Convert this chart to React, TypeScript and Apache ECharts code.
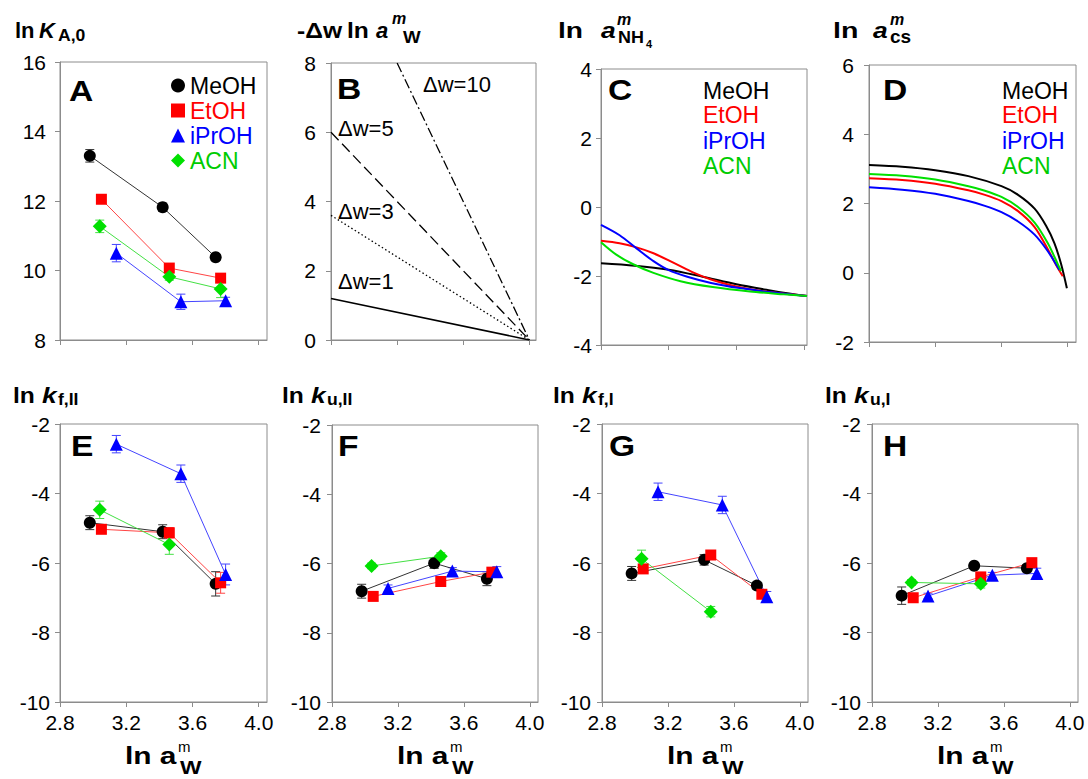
import React, { useEffect, useRef } from 'react';
import * as echarts from 'echarts';

const FONT = '"Liberation Sans", Arial, Helvetica, sans-serif';
const AX = '#8c8c8c';

// ---------- categories / styling per solvent ----------
const solvents = ['MeOH', 'EtOH', 'iPrOH', 'ACN'];
const markerColors = ['#000000', '#ff0000', '#0000ff', '#00e000'];
const lineColors = ['#333333', '#ff4444', '#4444ff', '#44e044'];
const textColors = ['#000000', '#ff0000', '#0000ff', '#00cc00'];
const markerSymbols = ['circle', 'rect', 'triangle', 'diamond'];
const markerSizes = [12, 11, 13, 14];

const xTicks = [2.8, 3.2, 3.6, 4.0];

// ---------- ln a^m_W of each data set ----------
const x_MeOH = [2.98, 3.42, 3.74];
const x_EtOH = [3.05, 3.46, 3.77];
const x_iPrOH = [3.14, 3.53, 3.8];
const x_ACN = [3.04, 3.46, 3.77];

// ---------- A: ln K_A,0 ----------
const A_MeOH = [13.3, 11.82, 10.38];
const A_EtOH = [12.05, 10.07, 9.78];
const A_iPrOH = [10.5, 9.1, 9.13];
const A_ACN = [11.27, 9.82, 9.47];
const A_err_MeOH = [0.18, 0.12, 0.08];
const A_err_EtOH = [0.08, 0.1, 0.1];
const A_err_iPrOH = [0.25, 0.22, 0.1];
const A_err_ACN = [0.18, 0.1, 0.25];

// ---------- B: -Δw ln a^m_W ----------
const B_labels = ['Δw=1', 'Δw=3', 'Δw=5', 'Δw=10'];
const B_dw1 = [[2.8, 1.2], [4.0, 0]];
const B_dw3 = [[2.8, 3.6], [4.0, 0]];
const B_dw5 = [[2.8, 6.0], [4.0, 0]];
const B_dw10 = [[3.2, 8.0], [4.0, 0]];

// ---------- C: ln a^m_NH4 ----------
const C_MeOH = [[2.8, -1.63], [3.0, -1.7], [3.2, -1.82], [3.4, -2.02], [3.6, -2.24], [3.8, -2.42], [3.9, -2.5], [4.017, -2.58]];
const C_EtOH = [[2.8, -0.98], [2.91, -1.05], [3.01, -1.17], [3.11, -1.34], [3.23, -1.62], [3.35, -1.91], [3.45, -2.1], [3.58, -2.28], [3.74, -2.43], [3.9, -2.52], [4.017, -2.58]];
const C_iPrOH = [[2.8, -0.52], [2.91, -0.82], [3.01, -1.2], [3.11, -1.57], [3.2, -1.83], [3.31, -2.02], [3.45, -2.2], [3.62, -2.35], [3.82, -2.48], [4.017, -2.58]];
const C_ACN = [[2.8, -1.02], [2.89, -1.38], [2.99, -1.66], [3.11, -1.91], [3.27, -2.15], [3.46, -2.32], [3.68, -2.45], [3.88, -2.53], [4.017, -2.58]];

// ---------- D: ln a^m_cs ----------
const D_MeOH = [[2.8, 3.11], [3.0, 3.06], [3.2, 2.96], [3.4, 2.79], [3.6, 2.5], [3.7, 2.25], [3.8, 1.85], [3.87, 1.35], [3.92, 0.85], [3.96, 0.25], [3.995, -0.45]];
const D_EtOH = [[2.8, 2.73], [3.0, 2.68], [3.2, 2.57], [3.4, 2.38], [3.5, 2.25], [3.6, 2.07], [3.7, 1.78], [3.8, 1.32], [3.88, 0.68], [3.93, 0.22], [3.97, -0.1]];
const D_iPrOH = [[2.8, 2.47], [3.0, 2.4], [3.2, 2.28], [3.4, 2.07], [3.5, 1.93], [3.6, 1.75], [3.7, 1.48], [3.8, 1.1], [3.88, 0.62], [3.95, 0.08]];
const D_ACN = [[2.8, 2.85], [3.0, 2.8], [3.2, 2.69], [3.4, 2.5], [3.5, 2.37], [3.6, 2.19], [3.7, 1.9], [3.8, 1.45], [3.88, 0.85], [3.94, 0.25], [3.96, 0.05]];

// ---------- E: ln k_f,II ----------
const E_MeOH = [-4.84, -5.1, -6.6];
const E_EtOH = [-5.03, -5.13, -6.57];
const E_iPrOH = [-2.58, -3.43, -6.33];
const E_ACN = [-4.47, -5.47];
const E_err_MeOH = [0.2, 0.2, 0.35];
const E_err_EtOH = [0.08, 0.15, 0.3];
const E_err_iPrOH = [0.25, 0.25, 0.3];
const E_err_ACN = [0.25, 0.28];

// ---------- F: ln k_u,II ----------
const F_MeOH = [-6.8, -5.99, -6.44];
const F_EtOH = [-6.95, -6.52, -6.25];
const F_iPrOH = [-6.72, -6.22, -6.24];
const F_ACN = [-6.07, -5.79];
const F_err_MeOH = [0.2, 0.15, 0.2];
const F_err_EtOH = [0.08, 0.08, 0.1];
const F_err_iPrOH = [0.1, 0.1, 0.15];
const F_err_ACN = [0.08, 0.1];

// ---------- G: ln k_f,I ----------
const G_MeOH = [-6.3, -5.91, -6.65];
const G_EtOH = [-6.17, -5.77, -6.9];
const G_iPrOH = [-3.95, -4.33, -6.97];
const G_ACN = [-5.88, -7.4];
const G_err_MeOH = [0.2, 0.15, 0.1];
const G_err_EtOH = [0.08, 0.08, 0.1];
const G_err_iPrOH = [0.25, 0.25, 0.15];
const G_err_ACN = [0.25, 0.15];

// ---------- H: ln k_u,I ----------
const H_MeOH = [-6.94, -6.08, -6.15];
const H_EtOH = [-7.0, -6.4, -5.99];
const H_iPrOH = [-6.95, -6.35, -6.3];
const H_ACN = [-6.56, -6.6];
const H_err_MeOH = [0.25, 0.08, 0.1];
const H_err_EtOH = [0.08, 0.08, 0.08];
const H_err_iPrOH = [0.08, 0.08, 0.15];
const H_err_ACN = [0.08, 0.12];

const xBySolvent = [x_MeOH, x_EtOH, x_iPrOH, x_ACN];

const panels = [
  { left: 60, top: 62, width: 207, height: 278, xMax: 4.05, yMin: 8, yMax: 16, lm: 14 },
  { left: 331, top: 63, width: 205, height: 277, xMax: 4.04, yMin: 0, yMax: 8, lm: 15 },
  { left: 601, top: 69, width: 206, height: 276, xMax: 4.017, yMin: -4, yMax: 4, lm: 9 },
  { left: 869, top: 65, width: 207, height: 277, xMax: 4.05, yMin: -2, yMax: 6, lm: 15 },
  { left: 60, top: 424, width: 207, height: 278, xMax: 4.05, yMin: -10, yMax: -2, lm: 10 },
  { left: 332, top: 425, width: 206, height: 277, xMax: 4.05, yMin: -10, yMax: -2, lm: 11 },
  { left: 602, top: 424, width: 206, height: 278, xMax: 4.05, yMin: -10, yMax: -2, lm: 11 },
  { left: 872, top: 424, width: 206, height: 278, xMax: 4.05, yMin: -10, yMax: -2, lm: 11 },
];

const pts = (xs: number[], ys: number[]) => ys.map((y, i) => [xs[i], y]);

const errorRender = (color: string) => (params: any, api: any) => {
  const x = api.value(0);
  const p1 = api.coord([x, api.value(1)]);
  const p2 = api.coord([x, api.value(2)]);
  const hw = 4.5;
  const st = { stroke: color, lineWidth: 1 };
  return {
    type: 'group',
    children: [
      { type: 'line', shape: { x1: p1[0], y1: p1[1], x2: p2[0], y2: p2[1] }, style: st },
      { type: 'line', shape: { x1: p1[0] - hw, y1: p1[1], x2: p1[0] + hw, y2: p1[1] }, style: st },
      { type: 'line', shape: { x1: p2[0] - hw, y1: p2[1], x2: p2[0] + hw, y2: p2[1] }, style: st },
    ],
  };
};

function markerPanel(idx: number, vals: number[][], errs: number[][]) {
  const out: any[] = [];
  vals.forEach((ys, s) => {
    const xs = xBySolvent[s];
    out.push({
      type: 'custom',
      xAxisIndex: idx,
      yAxisIndex: idx,
      silent: true,
      z: 2,
      renderItem: errorRender(lineColors[s]),
      encode: { x: 0, y: [1, 2] },
      data: ys.map((y, i) => [xs[i], y - errs[s][i], y + errs[s][i]]),
    });
  });
  vals.forEach((ys, s) => {
    out.push({
      type: 'line',
      name: solvents[s],
      xAxisIndex: idx,
      yAxisIndex: idx,
      z: 3,
      data: pts(xBySolvent[s], ys),
      symbol: markerSymbols[s],
      symbolSize: markerSizes[s],
      showSymbol: true,
      itemStyle: { color: markerColors[s] },
      lineStyle: { color: lineColors[s], width: 1 },
    });
  });
  return out;
}

function curvePanel(idx: number, curves: number[][][]) {
  return curves.map((d, s) => ({
    type: 'line',
    name: solvents[s],
    xAxisIndex: idx,
    yAxisIndex: idx,
    data: d,
    showSymbol: false,
    symbol: 'none',
    smooth: 0.3,
    itemStyle: { color: markerColors[s] },
    lineStyle: { color: markerColors[s], width: 2 },
  }));
}

const txt = (text: string, x: number, y: number, size: number, o: any = {}) => ({
  type: 'text',
  x,
  y,
  scaleX: o.sx ?? 1,
  silent: true,
  z: 10,
  style: {
    text,
    fill: o.color ?? '#000',
    fontSize: size,
    fontWeight: o.bold ? 'bold' : 'normal',
    fontStyle: o.italic ? 'italic' : 'normal',
    fontFamily: FONT,
    textVerticalAlign: 'middle',
    verticalAlign: 'middle',
  },
});

function buildOption() {
  const grid = panels.map((p) => ({
    left: p.left,
    top: p.top,
    width: p.width,
    height: p.height,
    show: true,
    borderColor: AX,
    borderWidth: 1,
    backgroundColor: 'transparent',
  }));
  const xAxis = panels.map((p, i) => ({
    gridIndex: i,
    type: 'value',
    min: 2.8,
    max: p.xMax,
    interval: 0.4,
    axisLine: { show: true, onZero: false, lineStyle: { color: AX, width: 1 } },
    axisTick: { show: true, inside: false, length: 5, lineStyle: { color: AX }, customValues: xTicks },
    axisLabel: {
      show: i >= 4,
      customValues: xTicks,
      formatter: (v: number) => v.toFixed(1),
      color: '#000',
      fontSize: 21,
      fontFamily: FONT,
      margin: 10,
    },
    splitLine: { show: false },
  }));
  const yAxis = panels.map((p, i) => ({
    gridIndex: i,
    type: 'value',
    min: p.yMin,
    max: p.yMax,
    interval: 2,
    axisLine: { show: true, onZero: false, lineStyle: { color: AX, width: 1 } },
    axisTick: { show: true, inside: false, length: 5, lineStyle: { color: AX } },
    axisLabel: { color: '#000', fontSize: 21, fontFamily: FONT, margin: p.lm },
    splitLine: { show: false },
  }));

  const series: any[] = [];
  series.push(
    ...markerPanel(0, [A_MeOH, A_EtOH, A_iPrOH, A_ACN], [A_err_MeOH, A_err_EtOH, A_err_iPrOH, A_err_ACN])
  );
  const bData = [B_dw1, B_dw3, B_dw5, B_dw10];
  const bTypes: any[] = ['solid', [1.5, 2.5], [11, 5], [10, 3, 2, 3]];
  bData.forEach((d, k) => {
    series.push({
      type: 'line',
      name: B_labels[k],
      xAxisIndex: 1,
      yAxisIndex: 1,
      data: d,
      symbol: 'none',
      showSymbol: false,
      itemStyle: { color: '#000' },
      lineStyle: { color: '#000', width: k === 0 ? 1.6 : 1.3, type: bTypes[k] },
    });
  });
  series.push(...curvePanel(2, [C_MeOH, C_EtOH, C_iPrOH, C_ACN]));
  series.push(...curvePanel(3, [D_MeOH, D_EtOH, D_iPrOH, D_ACN]));
  series.push(
    ...markerPanel(4, [E_MeOH, E_EtOH, E_iPrOH, E_ACN], [E_err_MeOH, E_err_EtOH, E_err_iPrOH, E_err_ACN])
  );
  series.push(
    ...markerPanel(5, [F_MeOH, F_EtOH, F_iPrOH, F_ACN], [F_err_MeOH, F_err_EtOH, F_err_iPrOH, F_err_ACN])
  );
  series.push(
    ...markerPanel(6, [G_MeOH, G_EtOH, G_iPrOH, G_ACN], [G_err_MeOH, G_err_EtOH, G_err_iPrOH, G_err_ACN])
  );
  series.push(
    ...markerPanel(7, [H_MeOH, H_EtOH, H_iPrOH, H_ACN], [H_err_MeOH, H_err_EtOH, H_err_iPrOH, H_err_ACN])
  );

  const els: any[] = [];
  // panel letters
  const letters: [string, number, number][] = [
    ['A', 69, 91], ['B', 337, 89], ['C', 608, 90], ['D', 883, 90],
    ['E', 71, 446], ['F', 338, 446], ['G', 609, 446], ['H', 883, 446],
  ];
  letters.forEach(([t, x, y]) => els.push(txt(t, x, y, 30, { bold: true, sx: 1.12 })));

  // top row titles
  els.push(txt('ln', 15, 30, 22, { bold: true }));
  els.push(txt('K', 39, 30, 22, { bold: true, italic: true }));
  els.push(txt('A,0', 58, 36, 16, { bold: true, sx: 1.1 }));

  els.push(txt('-Δw', 297, 30, 22, { bold: true, sx: 1.12 }));
  els.push(txt('ln', 347, 30, 22, { bold: true, sx: 1.12 }));
  els.push(txt('a', 376, 30, 22, { bold: true, italic: true }));
  els.push(txt('m', 392, 18, 16, { bold: true, italic: true }));
  els.push(txt('W', 403, 37, 17, { bold: true, sx: 1.1 }));

  els.push(txt('ln', 558, 30, 22, { bold: true, sx: 1.28 }));
  els.push(txt('a', 601, 30, 22, { bold: true, italic: true, sx: 1.2 }));
  els.push(txt('m', 617, 19, 16, { bold: true, italic: true }));
  els.push(txt('NH', 618, 38, 16, { bold: true, sx: 1.12 }));
  els.push(txt('4', 646, 44, 11, { bold: true }));

  els.push(txt('ln', 833, 30, 22, { bold: true, sx: 1.3 }));
  els.push(txt('a', 873, 30, 22, { bold: true, italic: true, sx: 1.2 }));
  els.push(txt('m', 890, 19, 16, { bold: true, italic: true }));
  els.push(txt('cs', 890, 36, 19, { bold: true }));

  // bottom row titles
  const kt: [number, string][] = [[13, 'f,II'], [282, 'u,II'], [553, 'f,I'], [825, 'u,I']];
  kt.forEach(([lx, sub]) => {
    els.push(txt('ln', lx, 395, 22, { bold: true, sx: 1.12 }));
    els.push(txt('k', lx + 29, 395, 22, { bold: true, italic: true, sx: 1.2 }));
    els.push(txt(sub, lx + 45, 400, 16, { bold: true, sx: 1.1 }));
  });

  // B line labels
  els.push(txt('Δw=10', 423, 84, 22));
  els.push(txt('Δw=5', 338, 128, 22));
  els.push(txt('Δw=3', 338, 211, 22));
  els.push(txt('Δw=1', 338, 281, 22));

  // C and D text legends
  const ly = [91, 115, 141, 166];
  solvents.forEach((s, i) => {
    els.push(txt(s, 703, ly[i], 23, { color: textColors[i] }));
    els.push(txt(s, 1002, ly[i], 23, { color: textColors[i] }));
  });

  // x axis titles
  [60, 332, 602, 872].forEach((L) => {
    els.push(txt('ln a', L + 65, 756, 23, { bold: true, sx: 1.3 }));
    els.push(txt('m', L + 118, 746, 15));
    els.push(txt('W', L + 120, 767, 19, { bold: true, sx: 1.2 }));
  });

  return {
    animation: false,
    backgroundColor: '#ffffff',
    grid,
    xAxis,
    yAxis,
    series,
    legend: {
      show: true,
      selectedMode: false,
      orient: 'vertical',
      left: 166,
      top: 69,
      itemWidth: 14,
      itemHeight: 14,
      itemGap: 2,
      textStyle: { fontSize: 23, fontFamily: FONT },
      data: solvents.map((s, i) => ({
        name: s,
        icon: markerSymbols[i],
        itemStyle: { color: markerColors[i] },
        textStyle: { color: textColors[i], fontSize: 23, fontFamily: FONT },
      })),
    },
    graphic: { elements: els },
  };
}

export default function App() {
  const ref = useRef<HTMLDivElement>(null);
  useEffect(() => {
    if (!ref.current) return;
    const chart = echarts.init(ref.current, undefined, { renderer: 'svg' });
    chart.setOption(buildOption() as any);
    return () => chart.dispose();
  }, []);
  return (
    <div
      ref={ref}
      style={{ position: 'absolute', left: 0, top: 0, width: 1088, height: 779, background: '#fff' }}
    />
  );
}
